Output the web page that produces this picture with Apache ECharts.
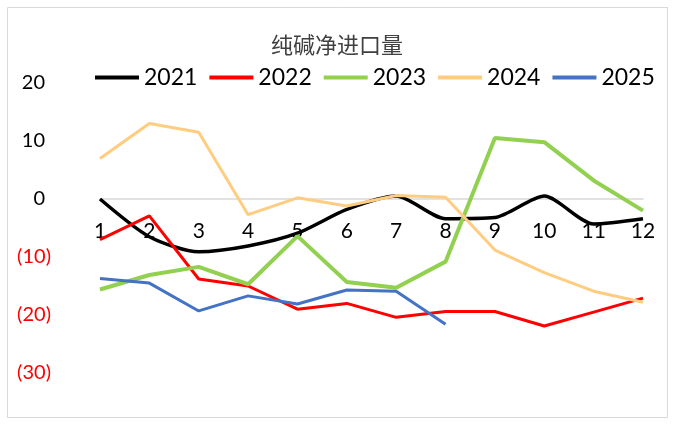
<!DOCTYPE html>
<html><head><meta charset="utf-8">
<script src="https://cdn.jsdelivr.net/npm/echarts@6/dist/echarts.min.js"></script>
<style>html,body{margin:0;padding:0;background:#fff}#c{width:674px;height:424px}</style>
</head><body><div id="c"></div>
<script>
var categories = ['1','2','3','4','5','6','7','8','9','10','11','12'];
var s2021 = [0, -6.5, -9.1, -8.1, -5.9, -1.8, 0.5, -3.4, -3.2, 0.5, -4.3, -3.4];
var s2022 = [-7.0, -2.9, -13.8, -15.0, -19.0, -18.0, -20.4, -19.4, -19.4, -21.9, -19.5, -17.1];
var s2023 = [-15.6, -13.1, -11.7, -14.7, -6.4, -14.3, -15.3, -10.8, 10.5, 9.8, 3.2, -2.0];
var s2024 = [7.0, 13.0, 11.5, -2.7, 0.2, -1.2, 0.6, 0.3, -8.8, -12.7, -15.9, -17.8];
var s2025 = [-13.7, -14.5, -19.3, -16.7, -18.1, -15.7, -15.9, -21.6];
var seriesNames = ['2021','2022','2023','2024','2025'];
var colors = ['#000000','#ff0000','#92d050','#ffcc80','#4472c4'];
var widths = [3.5, 3, 4, 3, 3];
var datas = [s2021, s2022, s2023, s2024, s2025];

var chart = echarts.init(document.getElementById('c'));
var font = 'Lato, "Liberation Sans", sans-serif';
chart.setOption({
  animation: false,
  graphic: [{type:'rect', shape:{x:7.5,y:7.5,width:660,height:410}, style:{fill:'none', stroke:'#d9d9d9', lineWidth:1}, silent:true}],
  title: {text:'纯碱净进口量', left:'center', top:29, textStyle:{fontFamily:'"Noto Sans CJK SC"', fontWeight:'normal', fontSize:22, color:'#404040'}},
  legend: {top:61, left:90, itemWidth:44, itemHeight:4, itemGap:12, icon:'rect',
    textStyle:{fontFamily:font, fontSize:23, color:'#000'}, data: seriesNames},
  grid: {left:100, right:31, top:83, bottom:51},
  xAxis: {type:'category', data:categories, boundaryGap:false, offset:-174,
    axisLine:{onZero:false, lineStyle:{color:'#d9d9d9', width:1.5}}, axisTick:{show:false},
    axisLabel:{fontFamily:font, fontSize:21, color:'#000', margin:22}},
  yAxis: {type:'value', min:-30, max:20, interval:10, splitLine:{show:false}, axisLine:{show:false}, axisTick:{show:false},
    axisLabel:{fontFamily:font, fontSize:20, margin:49, align:'right',
      formatter:function(v){return v<0?'{neg|('+(-v)+')}':'{pos|'+v+'}';},
      rich:{neg:{color:'#ff0000', fontFamily:font, fontSize:20}, pos:{color:'#000', fontFamily:font, fontSize:20, padding:[0,6,0,0]}}}},
  series: datas.map(function(d,i){return {name:seriesNames[i], type:'line', data:d, showSymbol:false, symbol:'none',
    smooth: i===0?0.25:false,
    lineStyle:{color:colors[i], width:widths[i]}, itemStyle:{color:colors[i]}};})
});
</script></body></html>
